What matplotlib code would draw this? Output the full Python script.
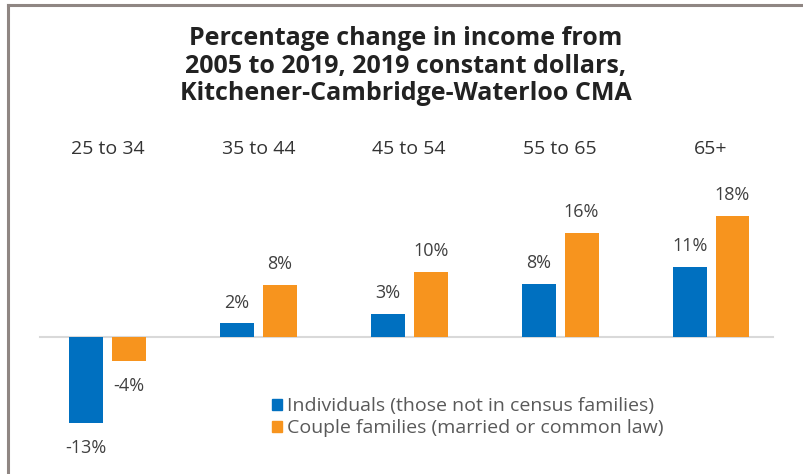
import matplotlib.pyplot as plt
from matplotlib.lines import Line2D
from matplotlib.patches import Patch
from matplotlib import transforms

plt.rcParams['font.family'] = ['Open Sans', 'DejaVu Sans']

age_groups = ["25 to 34", "35 to 44", "45 to 54", "55 to 65", "65+"]
# bar heights (labels show them rounded)
individuals = [-13.2, 2.0, 3.4, 8.1, 10.6]
couples = [-3.7, 7.9, 9.9, 15.8, 18.4]
series_names = ["Individuals (those not in census families)",
                "Couple families (married or common law)"]

BLUE = "#0070C0"
ORANGE = "#F7941E"

W, H = 804, 474
fig = plt.figure(figsize=(W / 100, H / 100), dpi=100)

# axes placed in pixel terms: x from 32 to 786.5, y from 140 to 465 (from top)
ax_l, ax_r, ax_t, ax_b = 32, 786.5, 140, 465
ax = fig.add_axes([ax_l / W, 1 - ax_b / H, (ax_r - ax_l) / W, (ax_b - ax_t) / H])
px_per_pct = 6.54
zero_y = 336.5
ax.set_xlim(-0.5, len(age_groups) - 0.5)
ax.set_ylim(-(ax_b - zero_y) / px_per_pct, (zero_y - ax_t) / px_per_pct)
ax.axis("off")

x = list(range(len(age_groups)))
bw = 0.225
off = 0.142
ax.bar([i - off for i in x], individuals, bw, color=BLUE, zorder=3)
ax.bar([i + off for i in x], couples, bw, color=ORANGE, zorder=3)

# baseline
ax.axhline(0, xmin=(40 - ax_l) / (ax_r - ax_l), xmax=(773 - ax_l) / (ax_r - ax_l),
           color="#d9d9d9", lw=1.5, zorder=2)

for vals, sign in ((individuals, -1), (couples, 1)):
    for i, v in enumerate(vals):
        ax.annotate(f"{v:.0f}%", (i + sign * off, v),
                    xytext=(0, 15 if v >= 0 else -18),
                    textcoords="offset points", ha="center", va="center",
                    fontsize=13, color="#404040")

# category labels along the top
trans = transforms.blended_transform_factory(ax.transData, fig.transFigure)
for i, lab in enumerate(age_groups):
    ax.text(i, 1 - 149 / H, lab, transform=trans, ha="center", va="center",
            fontsize=14, color="#333333")

fig.text(406 / W, 1 - 66 / H,
         "Percentage change in income from\n2005 to 2019, 2019 constant dollars,\n"
         "Kitchener-Cambridge-Waterloo CMA",
         ha="center", va="center", fontsize=18, fontweight="bold",
         color="#222222", linespacing=1.12)

handles = [Patch(color=BLUE), Patch(color=ORANGE)]
fig.legend(handles, series_names, loc="center left",
           bbox_to_anchor=(272 / W, 1 - 417 / H), frameon=False,
           fontsize=14, labelcolor="#595959", handlelength=0.5, handleheight=0.5,
           handletextpad=0.25, labelspacing=0.2, borderpad=0, borderaxespad=0)

# frame lines (top and left)
fig.add_artist(Line2D([8 / W, 1], [1 - 5 / H, 1 - 5 / H], color="#8f8683", lw=2.2))
fig.add_artist(Line2D([8 / W, 8 / W], [0, 1 - 5 / H], color="#8f8683", lw=2.2))

fig.savefig("out.png", dpi=100)
